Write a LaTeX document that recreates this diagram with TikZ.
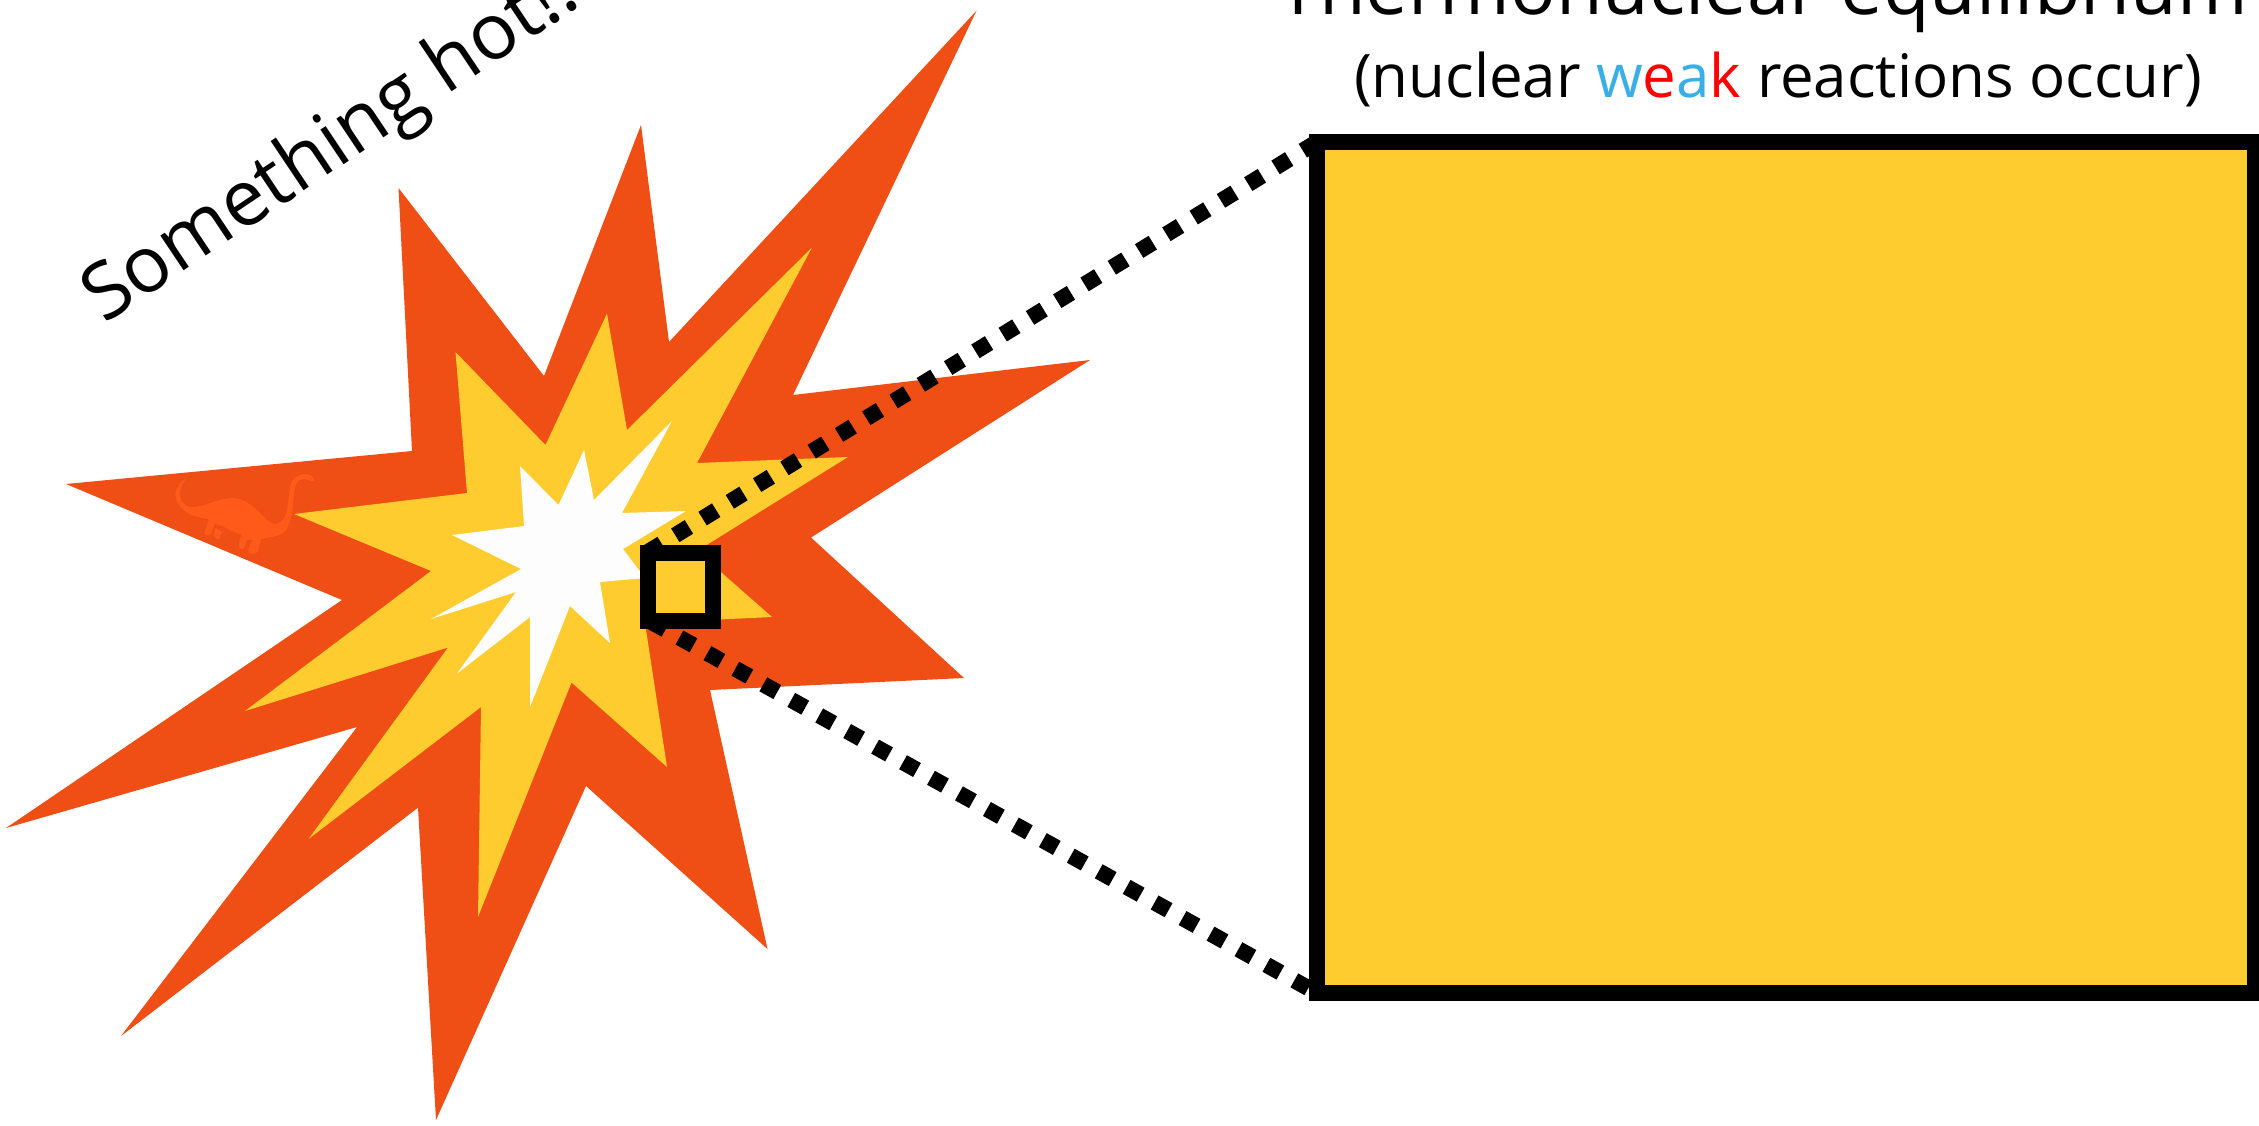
\documentclass[tikz,border=0pt]{standalone}
\usepackage{fontspec}
\setmainfont{Open Sans}
\definecolor{boomorange}{HTML}{EF4E15}
\definecolor{boomyellow}{HTML}{FFCC2F}
\definecolor{boomwhite}{HTML}{FDFDFD}
\definecolor{dinofill}{HTML}{FF5A19}
\definecolor{dinoedge}{HTML}{E94E14}
\definecolor{weakblue}{HTML}{3AAEE6}
\definecolor{weakred}{HTML}{FF0000}
\tikzset{
  burst/.style={draw=none},
  zoombox/.style={draw=black,line width=16bp,fill=boomyellow,inner sep=0pt,outer sep=0pt,anchor=north west},
  zoomline/.style={draw=black,line width=16bp,dash pattern=on 16bp off 16bp},
  labeltext/.style={inner sep=0pt,text=black}
}
\begin{document}
\begin{tikzpicture}[x=1bp,y=-1bp]
\clip (0,0) rectangle (2259,1125);
\fill[white] (0,0) rectangle (2259,1125);
% outer burst
\fill[burst,boomorange] (976.5,10.7) -- (793,395) -- (1090,360) -- (811,537.5) -- (964,678) -- (710,690) -- (767.5,949) -- (586,786) -- (436,1120) -- (418,807.6) -- (121,1036) -- (357,727) -- (6,828) -- (342,600) -- (66,484) -- (412,451) -- (398.5,188) -- (544,376) -- (641,125) -- (669,342) -- cycle;
% yellow burst
\fill[burst,boomyellow] (812,247.5) -- (697,463) -- (848,457) -- (697,551) -- (772,617) -- (645,623) -- (667,767) -- (571.5,682.5) -- (478,917) -- (481,707) -- (308.5,839) -- (448,647.5) -- (245,711) -- (431,571) -- (294,514) -- (467,493) -- (455.5,352) -- (545.5,445) -- (607,313.5) -- (627,430) -- cycle;
% white burst
\fill[burst,boomwhite] (672,421) -- (622,513) -- (686,511) -- (623,549) -- (645,578) -- (600,582) -- (610,643) -- (570,606) -- (530,707) -- (530,617) -- (457,673.5) -- (516,592) -- (431,619) -- (521,569) -- (452,535) -- (524,526) -- (520,466) -- (558.5,505) -- (584,450) -- (594,500) -- cycle;
% dinosaur
\begin{scope}[xshift=150bp,yshift=-450bp,x=0.3333bp,y=-0.3333bp]
\path[fill=dinofill,draw=dinoedge,line width=0.5bp] (133,72) .. controls (105,85) and (88,110) .. (92,140)
 .. controls (97,165) and (115,172) .. (135,170)
 .. controls (170,165) and (215,140) .. (255,143)
 .. controls (300,147) and (335,195) .. (360,215)
 .. controls (385,228) and (400,215) .. (410,180)
 .. controls (418,140) and (415,100) .. (430,85)
 .. controls (445,68) and (480,65) .. (495,85)
 .. controls (495,97) and (482,97) .. (475,92)
 .. controls (460,85) and (445,88) .. (438,105)
 .. controls (428,140) and (435,200) .. (410,240)
 .. controls (395,260) and (365,262) .. (335,268)
 -- (325,305) .. controls (318,318) and (295,318) .. (292,300)
 -- (305,270) -- (292,270) -- (283,297)
 .. controls (275,303) and (262,298) .. (265,280)
 -- (272,255) .. controls (250,250) and (215,225) .. (195,222)
 -- (185,250) .. controls (178,260) and (160,258) .. (162,245)
 -- (175,208) .. controls (130,205) and (75,180) .. (75,135)
 .. controls (75,105) and (105,80) .. (133,72) -- cycle;
\path[fill=dinofill,draw=dinoedge,line width=0.5bp] (195,232) -- (218,245) -- (207,270) -- (190,262) -- cycle;
\end{scope}
\coordinate (bigTL) at (1317,142);
\coordinate (bigBL) at (1317,993);
\coordinate (smallTL) at (648,552);
\coordinate (smallBL) at (648,620);
\draw[zoomline] (smallTL) -- (bigTL);
\draw[zoomline,dash phase=28bp] (smallBL) -- (bigBL);
\node[zoombox,minimum width=65bp,minimum height=68bp] (smallbox) at (647.5,552.5) {};
\node[zoombox,minimum width=937.7bp,minimum height=851bp] (bigbox) at (1317,142) {};
% text
\node[labeltext,font=\fontsize{76bp}{84bp}\selectfont,anchor=base west] (title) at (1277,14) {Thermonuclear equilibrium};
\node[labeltext,font=\fontsize{60bp}{68bp}\selectfont,anchor=base] (sub) at (1778,97) {(nuclear \textcolor{weakblue}{w}\textcolor{weakred}{e}\textcolor{weakblue}{a}\textcolor{weakred}{k} reactions occur)};
\node[labeltext,font=\fontsize{78bp}{86bp}\selectfont,anchor=base west,rotate=33.8] (hot) at (104,325) {Something hot!!};
\end{tikzpicture}
\end{document}
